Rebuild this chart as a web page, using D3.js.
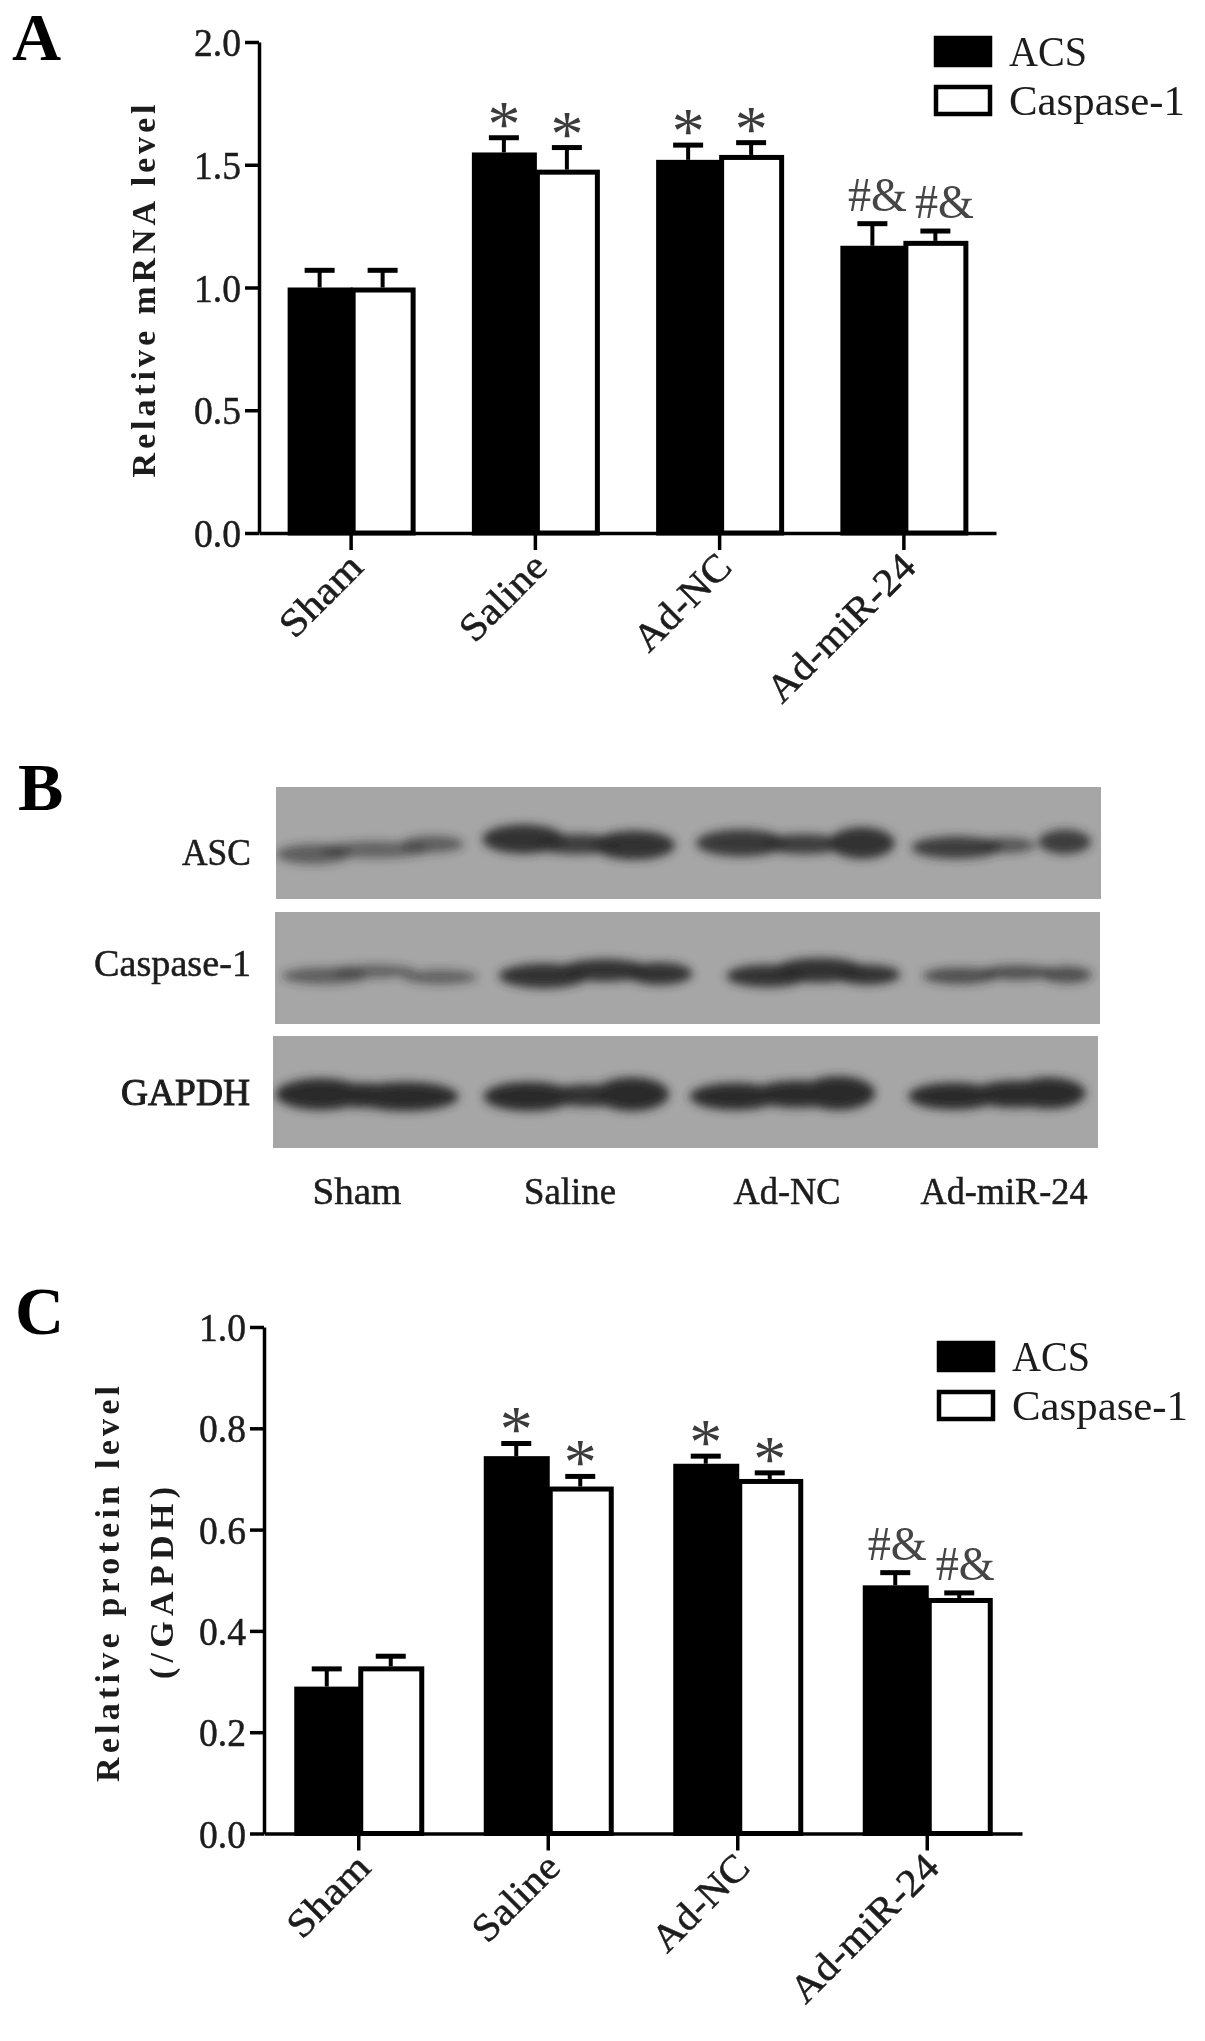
<!DOCTYPE html>
<html><head><meta charset="utf-8">
<script src="https://cdnjs.cloudflare.com/ajax/libs/d3/7.8.5/d3.min.js"></script>
<style>
html,body{margin:0;padding:0;background:#fff}
svg{display:block}
text{font-family:"Liberation Serif",serif;fill:#1c1c1c}
.hv{stroke:#1c1c1c;stroke-width:.5px}
.hvv{stroke:#1c1c1c;stroke-width:1px}
</style></head><body><svg id="c" width="1205" height="2041"></svg>
<script>
// ---------- data ----------
const categories = ["Sham","Saline","Ad-NC","Ad-miR-24"];
const seriesNames = ["ACS","Caspase-1"];
const mrnaACS      = [1.00,1.55,1.52,1.17];
const mrnaCasp     = [1.00,1.48,1.54,1.19];
const mrnaACSTop   = [1.07,1.61,1.58,1.26];
const mrnaCaspTop  = [1.07,1.57,1.59,1.23];
const mrnaTicks    = [0,0.5,1,1.5,2];
const protACS      = [0.29,0.745,0.73,0.49];
const protCasp     = [0.33,0.685,0.70,0.465];
const protACSTop   = [0.325,0.77,0.745,0.515];
const protCaspTop  = [0.35,0.705,0.712,0.475];
const protTicks    = [0,0.2,0.4,0.6,0.8,1];
const marks        = ["","*","*","#&"];
const xLabelLengths = [100,106,120,192];

// blot bands: [x %, y %, half-width %, half-height %, density]
const ascBands = [[4.5,60,4.5,9,.6],[12,56,6.5,7.5,.55],[19,51,3.8,7.5,.6],
 [30,46.5,5,13,.95],[36.5,51,5.5,9,.85],[43.4,52,5,13,.95],
 [56.4,50,5.5,12,.9],[64,51,5,9,.85],[71,50,4,14,.95],
 [82.5,54,5.5,10,.85],[88.6,52,3.5,7,.65],[95.6,49,3.2,11,.85]];
const caspBands = [[6,57,5.2,7.5,.6],[12,53,5,6,.55],[20,58,4.5,6.5,.55],
 [32.6,57,5.5,11,.95],[40,52,5.5,10,.95],[46.6,55,4,10,.95],
 [59.7,57,5,10,.95],[66,52,5.5,11,.95],[71.8,56,4,9,.95],
 [83,57,4.5,7.5,.7],[90,54,4.5,6.5,.7],[96,56,3,7.5,.7]];
const gapdhBands = [[5.8,52,5.5,14,1],[11,53,4,11,1],[16,54,6.5,13,1],
 [31,54,5.5,13,1],[38.5,53,5.5,10,.95],[43.5,52,4.5,15,1],
 [56,54,5.5,12,1],[63.5,52,5.5,12,1],[68.5,51,4.5,15,1],
 [82.5,53.7,5.5,12,1],[90,52,5.5,12,1],[94,51,4.5,14,1]];
const blotRows = [
 {name:"ASC",bands:ascBands,x:276,y:787,w:825,h:112,tx:251,ty:865,tl:69},
 {name:"Caspase-1",bands:caspBands,x:275,y:912,w:825,h:112,tx:251,ty:976,tl:157},
 {name:"GAPDH",bands:gapdhBands,x:273,y:1036,w:825,h:112,tx:250,ty:1105,tl:129}];
const blotLabelCenters = [357,570,787,1004];
const blotLabelLengths = [89,92,107,167];

// ---------- drawing ----------
const svg = d3.select("#c");
const defs = svg.append("defs");
defs.append("filter").attr("id","blur").attr("x","-30%").attr("y","-60%").attr("width","160%").attr("height","220%")
  .append("feGaussianBlur").attr("stdDeviation",5);
defs.append("filter").attr("id","soft").append("feGaussianBlur").attr("stdDeviation",0.6);
const root = svg.append("g").attr("filter","url(#soft)");

function barPanel(o){
  const g = root.append("g");
  const x = d3.scaleBand().domain(categories).range(o.xr);
  const y = d3.scaleLinear().domain(o.yd).range(o.yr);
  const inner = d3.scaleBand().domain(seriesNames).range([-o.bw,o.bw]);
  const yAxis = d3.axisLeft(y).tickValues(o.ticks).tickFormat(d3.format(".1f")).tickSize(14).tickSizeOuter(0).tickPadding(4);
  const xAxis = d3.axisBottom(x).tickSize(17).tickSizeOuter(0).tickFormat("");
  const rows = [{k:"ACS",v:o.a,t:o.at,fill:"#000"},{k:"Caspase-1",v:o.b,t:o.bt,fill:"#fff"}];
  rows.forEach(r=>{
    categories.forEach((c,i)=>{
      const cx = x(c)+x.bandwidth()/2 + inner(r.k);
      const mid = cx + inner.bandwidth()/2;
      g.append("line").attr("x1",mid).attr("x2",mid).attr("y1",y(r.v[i])).attr("y2",y(r.t[i])).attr("stroke","#000").attr("stroke-width",4);
      g.append("line").attr("x1",mid-15).attr("x2",mid+15).attr("y1",y(r.t[i])).attr("y2",y(r.t[i])).attr("stroke","#000").attr("stroke-width",5);
      g.append("rect").attr("x",cx+2).attr("y",y(r.v[i])+2.5).attr("width",inner.bandwidth()-3)
        .attr("height",y(0)-y(r.v[i])-2.5).attr("fill",r.fill).attr("stroke","#000").attr("stroke-width",5);
      const m = marks[i];
      if(m==="*") g.append("text").attr("x",mid).attr("y",y(r.t[i])-24+32).attr("text-anchor","middle").attr("font-size",66).style("fill","#3a3a3a").text(m);
      if(m==="#&") g.append("text").attr("x",mid+o.hashDx+(r.k==="ACS"?-1:3)).attr("y",y(r.t[i])-13).attr("text-anchor","middle")
        .attr("font-size",49).attr("textLength",59).attr("lengthAdjust","spacingAndGlyphs").style("fill","#444").text(m);
    });
  });
  const ga = g.append("g").attr("transform",`translate(${o.xr[0]},0)`).call(yAxis);
  const gb = g.append("g").attr("transform",`translate(0,${y(0)})`).call(xAxis);
  [ga,gb].forEach(s=>{s.selectAll("path,line").attr("stroke","#000").attr("stroke-width",3.5);});
  ga.selectAll("text").attr("font-size",41).attr("font-family","Liberation Serif").attr("dy","0.33em")
    .attr("textLength",47).attr("lengthAdjust","spacingAndGlyphs").attr("class","hv");
  categories.forEach((c,i)=>{
    const px = x(c)+x.bandwidth()/2+o.lx, py = y(0)+o.ly;
    g.append("text").attr("class","hv").attr("transform",`translate(${px},${py}) rotate(-45)`).attr("text-anchor","end")
      .attr("font-size",39).attr("textLength",xLabelLengths[i]).attr("lengthAdjust","spacingAndGlyphs").text(c);
  });
  o.titles.forEach(t=>{
    g.append("text").attr("transform",`translate(${t.x},${t.y}) rotate(-90)`).attr("text-anchor","middle")
      .attr("font-size",34).attr("font-weight","bold").attr("textLength",t.len).attr("lengthAdjust","spacing").text(t.s);
  });
  const leg = o.leg;
  seriesNames.forEach((s,i)=>{
    const ly = leg.y + i*leg.dy;
    g.append("rect").attr("x",leg.x+2).attr("y",ly+2).attr("width",54).attr("height",27).attr("fill",i?"#fff":"#000").attr("stroke","#000").attr("stroke-width",4.5);
    g.append("text").attr("x",leg.x+75).attr("y",ly+30).attr("font-size",42).attr("textLength",i?176:78).attr("lengthAdjust","spacingAndGlyphs").text(s);
  });
  g.append("text").attr("x",o.letter.x).attr("y",o.letter.y).attr("font-size",68).attr("font-weight","bold").style("fill","#000").text(o.letter.s);
}

barPanel({xr:[259,996],yd:[0,2],yr:[533,42],ticks:mrnaTicks,a:mrnaACS,b:mrnaCasp,at:mrnaACSTop,bt:mrnaCaspTop,bw:63,hashDx:6,
  lx:14,ly:36,
  titles:[{x:155,y:291,len:373,s:"Relative mRNA level"}],
  leg:{x:934,y:36,dy:49},letter:{x:12,y:60,s:"A"}});
barPanel({xr:[264,1022],yd:[0,1],yr:[1833.5,1327],ticks:protTicks,a:protACS,b:protCasp,at:protACSTop,bt:protCaspTop,bw:64,hashDx:3,
  lx:14,ly:36,
  titles:[{x:119,y:1584,len:396,s:"Relative protein level"},{x:173,y:1583,len:192,s:"(/GAPDH)"}],
  leg:{x:937,y:1341,dy:49},letter:{x:15,y:1334,s:"C"}});

// Panel B: western blot
const gb = root.append("g");
blotRows.forEach(r=>{
  const fx = d3.scaleLinear().domain([0,100]).range([0,r.w]);
  const fy = d3.scaleLinear().domain([0,100]).range([0,r.h]);
  const row = gb.append("g").attr("transform",`translate(${r.x},${r.y})`);
  row.append("rect").attr("width",r.w).attr("height",r.h).attr("fill","#a6a6a6");
  const clip = "clip-"+r.name;
  defs.append("clipPath").attr("id",clip).append("rect").attr("width",r.w).attr("height",r.h);
  row.append("g").attr("clip-path",`url(#${clip})`).append("g").attr("filter","url(#blur)")
    .selectAll("ellipse").data(r.bands).join("ellipse")
    .attr("cx",d=>fx(d[0])).attr("cy",d=>fy(d[1])).attr("rx",d=>fx(d[2])).attr("ry",d=>fy(d[3]))
    .attr("fill","#2b2b2b").attr("fill-opacity",d=>d[4]);
  gb.append("text").attr("class",r.name==="GAPDH"?"hvv":"hv").attr("x",r.tx).attr("y",r.ty).attr("text-anchor","end").attr("font-size",37)
    .attr("textLength",r.tl).attr("lengthAdjust","spacingAndGlyphs").text(r.name);
});
categories.forEach((c,i)=>{
  gb.append("text").attr("class","hv").attr("x",blotLabelCenters[i]).attr("y",1204).attr("text-anchor","middle").attr("font-size",37)
    .attr("textLength",blotLabelLengths[i]).attr("lengthAdjust","spacingAndGlyphs").text(c);
});
gb.append("text").attr("x",18).attr("y",810).attr("font-size",68).attr("font-weight","bold").style("fill","#000").text("B");
</script></body></html>
